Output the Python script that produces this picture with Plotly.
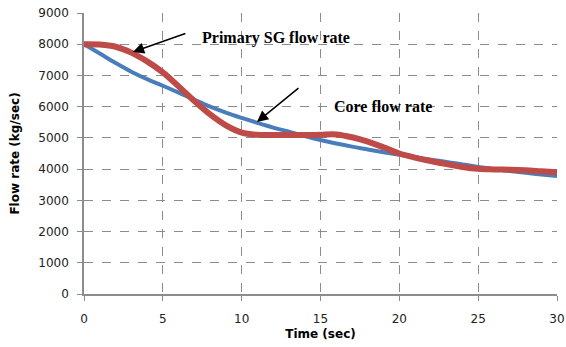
import plotly.graph_objects as go

time_s = [0, 1, 2, 3, 4, 5, 6, 7, 8, 9, 10, 11, 12, 13, 14, 15, 16, 17, 18, 19, 20,
          21, 22, 23, 24, 25, 26, 27, 28, 29, 30]
core_flow = [8000, 7700, 7400, 7120, 6880, 6670, 6450, 6220, 6000, 5810, 5640, 5480,
             5330, 5200, 5060, 4930, 4820, 4720, 4630, 4540, 4460, 4380, 4300, 4230,
             4150, 4070, 4000, 3940, 3880, 3830, 3780]
sg_flow = [8000, 7990, 7920, 7730, 7450, 7100, 6650, 6180, 5750, 5400, 5170, 5100,
           5090, 5090, 5090, 5100, 5110, 5020, 4880, 4700, 4500, 4370, 4260, 4160,
           4070, 4010, 3990, 3980, 3960, 3930, 3900]
x_ticks = [0, 5, 10, 15, 20, 25, 30]
y_ticks = [0, 1000, 2000, 3000, 4000, 5000, 6000, 7000, 8000, 9000]

fig = go.Figure()
fig.add_trace(go.Scatter(x=time_s, y=core_flow, mode="lines", name="Core flow rate",
                         line=dict(color="#4a7ebb", width=4, shape="spline")))
fig.add_trace(go.Scatter(x=time_s, y=sg_flow, mode="lines", name="Primary SG flow rate",
                         line=dict(color="#be4b48", width=6, shape="spline")))

grid = dict(showgrid=True, gridcolor="#8c8c8c", griddash="dash", gridwidth=1,
            showline=True, linecolor="#8c8c8c", linewidth=1.5,
            ticks="outside", ticklen=5, tickcolor="#8c8c8c",
            tickfont=dict(family="DejaVu Sans", size=12, color="#222"),
            zeroline=False, automargin=False)

fig.update_xaxes(range=[0, 30], tickvals=x_ticks, ticklabelstandoff=8, **grid,
                 title=dict(text="<b>Time (sec)</b>", standoff=4,
                            font=dict(family="DejaVu Sans", size=12, color="#000")))
fig.update_yaxes(range=[0, 9000], tickvals=y_ticks, ticklabelstandoff=6, **grid,
                 title=dict(text="<b>Flow rate (kg/sec)</b>", standoff=16,
                            font=dict(family="DejaVu Sans", size=12, color="#000")))

txt_font = dict(family="Liberation Serif", size=16, color="#000")
fig.add_annotation(x=7.36, y=8200, text="<b>Primary SG flow rate</b>", showarrow=False,
                   xanchor="left", yanchor="middle", font=txt_font)
fig.add_annotation(x=15.73, y=6020, text="<b>Core flow rate</b>", showarrow=False,
                   xanchor="left", yanchor="middle", font=txt_font)
fig.add_annotation(x=3.1, y=7750, ax=54, ay=-19, text="", showarrow=True,
                   arrowhead=2, arrowsize=1.5, arrowwidth=1.5, arrowcolor="#000")
fig.add_annotation(x=10.97, y=5510, ax=43, ay=-35, text="", showarrow=True,
                   arrowhead=2, arrowsize=1.5, arrowwidth=1.5, arrowcolor="#000")

fig.update_layout(width=566, height=347, showlegend=False,
                  margin=dict(l=84, r=9, t=13, b=53),
                  paper_bgcolor="white", plot_bgcolor="white")
fig.write_html("out.html")
